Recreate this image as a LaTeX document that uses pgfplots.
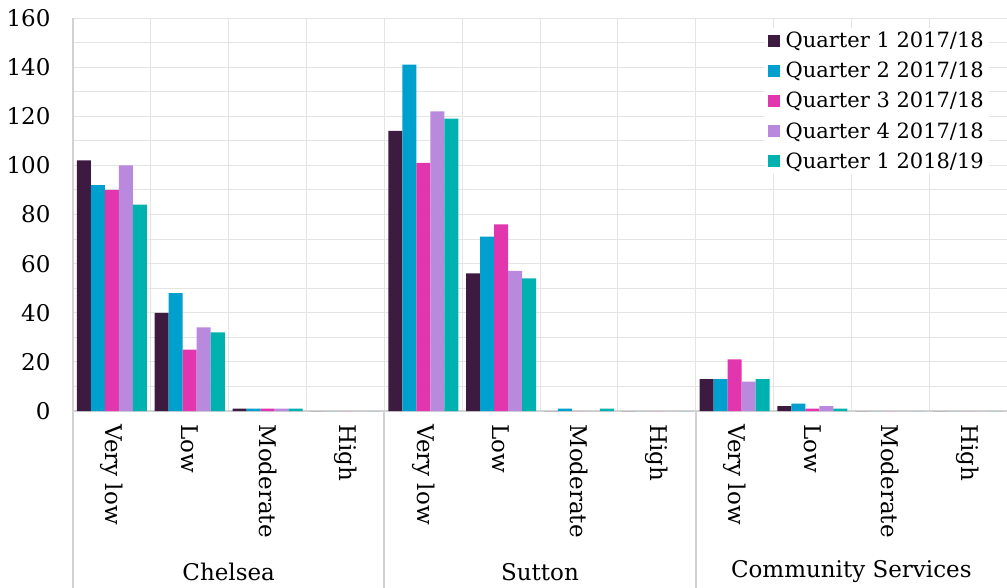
\documentclass[border=0pt]{standalone}
\usepackage{fontspec}
\setmainfont{DejaVu Serif}
\usepackage{pgfplots}
\pgfplotsset{compat=1.18}
\definecolor{qa}{HTML}{3D1A40}
\definecolor{qb}{HTML}{00A0CE}
\definecolor{qc}{HTML}{E236AF}
\definecolor{qd}{HTML}{B989DD}
\definecolor{qe}{HTML}{00B2AF}
\definecolor{gridgray}{HTML}{E4E4E4}
\definecolor{axisgray}{HTML}{D2D2D2}
\newcommand{\cf}{\fontsize{23}{27}\selectfont}
\newcommand{\lf}{\fontsize{21}{25}\selectfont}
\begin{document}
\begin{tikzpicture}
\begin{axis}[name=ax,
  scale only axis, width=934pt, height=393pt,
  ybar=0pt, bar width=14pt,
  xmin=-0.5, xmax=11.5, ymin=0, ymax=160,
  xtick={0,...,11},
  xticklabels={Very low,Low,Moderate,High,Very low,Low,Moderate,High,Very low,Low,Moderate,High},
  minor xtick={0.5,1.5,...,10.5},
  xminorgrids=true,
  ytick={0,20,...,160}, minor ytick={10,30,...,150},
  ymajorgrids=true, yminorgrids=true,
  grid style={draw=gridgray, line width=1pt},
  minor grid style={draw=gridgray, line width=1pt},
  axis x line*=bottom, axis y line*=left,
  x axis line style={draw=axisgray, line width=2pt, -},
  y axis line style={draw=axisgray, line width=2pt, -},
  major tick length=0pt, minor tick length=0pt,
  tick style={draw=none},
  xticklabel style={rotate=-90, anchor=west, font=\cf},
  xticklabel shift=10pt,
  yticklabel style={font=\cf, xshift=-19pt},
  /pgf/number format/assume math mode=true,
  clip=false,
  legend cell align=left,
  legend style={at={(1,1)}, anchor=north east, xshift=-18pt, yshift=-10pt,
    draw=none, fill=white, font=\lf, row sep=9pt,
    /tikz/every odd column/.append style={column sep=4pt}},
  legend image code/.code={\fill[#1,draw=none] (0pt,-6pt) rectangle (12pt,6pt);},
]
\addplot[fill=qa, draw=none] coordinates {(0,102) (1,40) (2,1) (3,0) (4,114) (5,56) (6,0) (7,0) (8,13) (9,2) (10,0) (11,0)};
\addplot[fill=qb, draw=none] coordinates {(0,92) (1,48) (2,1) (3,0) (4,141) (5,71) (6,1) (7,0) (8,13) (9,3) (10,0) (11,0)};
\addplot[fill=qc, draw=none] coordinates {(0,90) (1,25) (2,1) (3,0) (4,101) (5,76) (6,0) (7,0) (8,21) (9,1) (10,0) (11,0)};
\addplot[fill=qd, draw=none] coordinates {(0,100) (1,34) (2,1) (3,0) (4,122) (5,57) (6,0) (7,0) (8,12) (9,2) (10,0) (11,0)};
\addplot[fill=qe, draw=none] coordinates {(0,84) (1,32) (2,1) (3,0) (4,119) (5,54) (6,1) (7,0) (8,13) (9,1) (10,0) (11,0)};
\legend{Quarter 1 2017/18,Quarter 2 2017/18,Quarter 3 2017/18,Quarter 4 2017/18,Quarter 1 2018/19}
\draw[axisgray, line width=2pt] (axis cs:-0.5,0) -- ++(0pt,-180pt);
\draw[axisgray, line width=2pt] (axis cs:3.5,0) -- ++(0pt,-180pt);
\draw[axisgray, line width=2pt] (axis cs:7.5,0) -- ++(0pt,-180pt);
\node[font=\cf] at ([yshift=-161pt]axis cs:1.5,0) {Chelsea};
\node[font=\cf] at ([yshift=-161pt]axis cs:5.5,0) {Sutton};
\node[font=\cf] at ([yshift=-161pt]axis cs:9.5,0) {Community Services};
\end{axis}
\pgfresetboundingbox
\path ([xshift=-73pt,yshift=-176pt]ax.south west) rectangle ([yshift=18pt]ax.north east);
\end{tikzpicture}
\end{document}
